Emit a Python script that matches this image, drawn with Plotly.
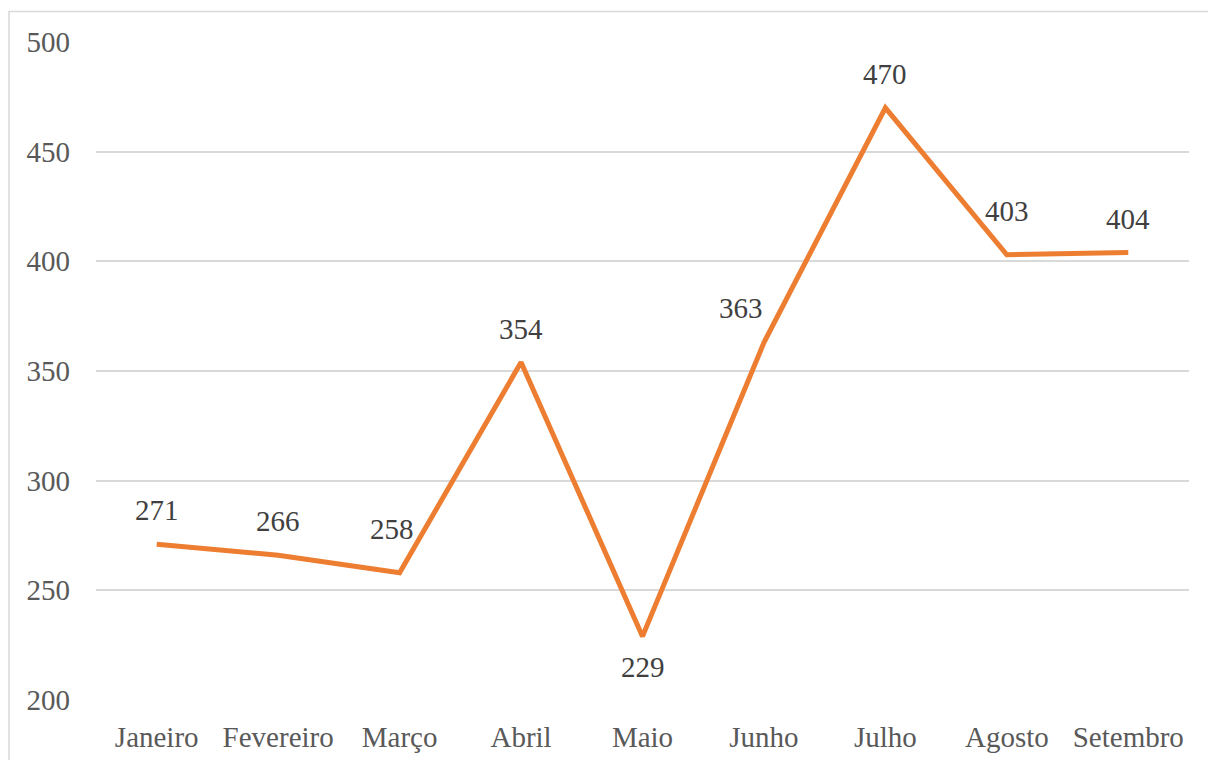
import plotly.graph_objects as go

# Monthly values
meses = ["Janeiro", "Fevereiro", "Março", "Abril", "Maio", "Junho", "Julho", "Agosto", "Setembro"]
valores = [271, 266, 258, 354, 229, 363, 470, 403, 404]

# Per-label pixel offsets (x, y) so labels sit clear of the line
label_dx = [0, 0, -8, 0, 0, -23, 0, 0, 0]
label_dy = [34, 34, 44, 33, -31, 34, 34, 44, 34]

FONT = "Liberation Serif"
LINE_COLOR = "#ED7D31"
TEXT_COLOR = "#595959"
GRID_COLOR = "#D9D9D9"

fig = go.Figure()
fig.add_trace(go.Scatter(
    x=meses, y=valores, mode="lines",
    line=dict(color=LINE_COLOR, width=5),
    hoverinfo="x+y", showlegend=False,
))

for m, v, dx, dy in zip(meses, valores, label_dx, label_dy):
    fig.add_annotation(
        x=m, y=v, text=str(v), showarrow=False,
        xshift=dx, yshift=dy,
        font=dict(family=FONT, size=29, color="#404040"),
    )

# Outer chart border
fig.add_shape(
    type="rect", xref="paper", yref="paper",
    x0=-87 / 1093, x1=1.05, y0=-0.12, y1=(700 - 11) / 658.5,
    line=dict(color=GRID_COLOR, width=1.5), fillcolor="rgba(0,0,0,0)",
    layer="below",
)

fig.update_layout(
    width=1208, height=760,
    margin=dict(l=96, r=19, t=41.5, b=60),
    paper_bgcolor="white", plot_bgcolor="white",
    font=dict(family=FONT, size=29, color=TEXT_COLOR),
    xaxis=dict(
        type="category", range=[-0.5, 8.5], automargin=False,
        showgrid=False, showline=False, zeroline=False, ticks="",
        tickfont=dict(family=FONT, size=29, color=TEXT_COLOR),
        ticklabelstandoff=17,
    ),
    yaxis=dict(
        range=[200, 500], dtick=50, tick0=200, automargin=False,
        showgrid=True, gridcolor=GRID_COLOR, gridwidth=1.5,
        zeroline=False, showline=False, ticks="",
        tickfont=dict(family=FONT, size=29, color=TEXT_COLOR),
        ticklabelstandoff=25,
    ),
)

fig.write_html("out.html")
